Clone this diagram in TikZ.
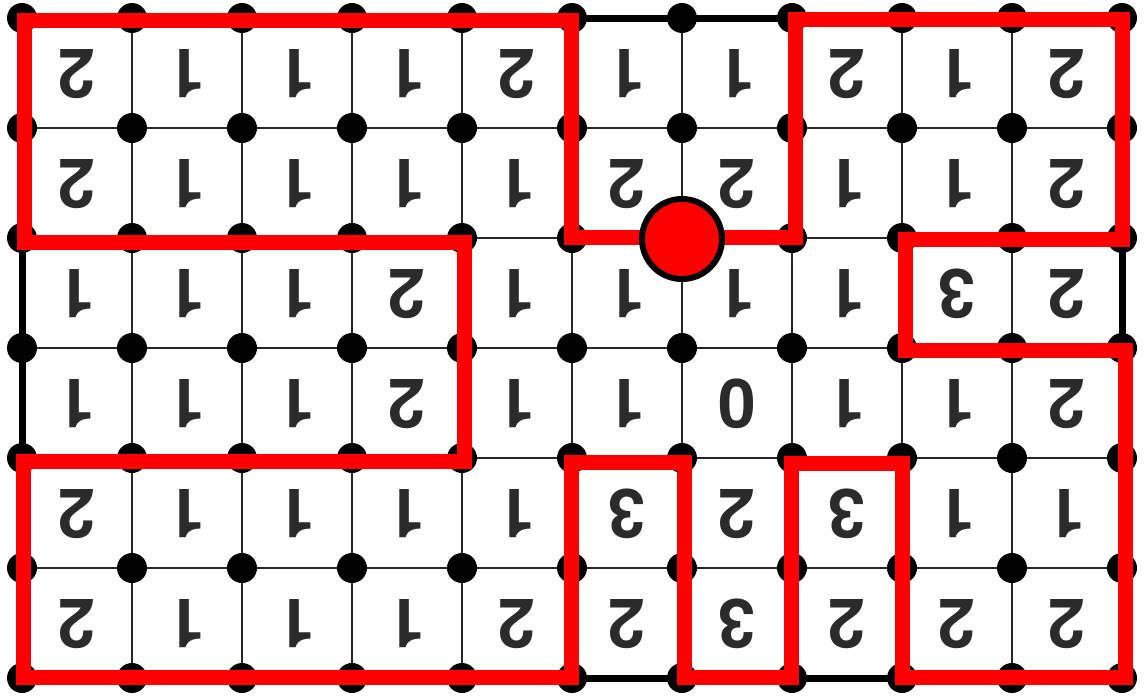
\documentclass[tikz,border=0pt]{standalone}
\usepackage{fontspec}
\setmainfont{TeX Gyre Heros}
\definecolor{digit}{HTML}{2B2B2B}
\definecolor{loopred}{HTML}{FF0000}
\begin{document}
\begin{tikzpicture}[x=1pt,y=-1pt,
  thinline/.style={line width=1.8pt,black!85},
  border/.style={line width=7pt,black},
  vdot/.style={circle,fill=black,inner sep=0pt,minimum size=30pt},
  digitnode/.style={rotate=180,text=digit,font=\fontsize{68}{68}\selectfont\bfseries,inner sep=0pt},
  looppath/.style={line width=15pt,loopred,line join=miter},
  startdot/.style={circle,fill=loopred,draw=black,line width=6pt,minimum size=80pt,inner sep=0pt}]
\useasboundingbox (0,0) rectangle (1144,699);
% grid
\foreach \i in {1,...,9} \draw[thinline] (22+110*\i,18) -- (22+110*\i,678);
\foreach \j in {1,...,5} \draw[thinline] (22,18+110*\j) -- (1122,18+110*\j);
\draw[border] (22,18) rectangle (1122,678);
% dots
\foreach \i in {0,...,10} \foreach \j in {0,...,6}
  \node[vdot] (d-\i-\j) at (22+110*\i,18+110*\j) {};
% digits
\foreach \row [count=\jj from 0] in {{2,1,1,1,2,1,1,2,1,2},{2,1,1,1,1,2,2,1,1,2},{1,1,1,2,1,1,1,1,3,2},{1,1,1,2,1,1,0,1,1,2},{2,1,1,1,1,3,2,3,1,1},{2,1,1,1,2,2,3,2,2,2}}
  \foreach \d [count=\ii from 0] in \row
    \node[digitnode] (c-\ii-\jj) at (77+110*\ii,74+110*\jj) {\d};
% loop corners
\coordinate (p1) at (24,20);
\coordinate (p2) at (571,20);
\coordinate (p3) at (571,237.5);
\coordinate (p4) at (795,237.5);
\coordinate (p5) at (795,19.5);
\coordinate (p6) at (1122,19.5);
\coordinate (p7) at (1122,239.5);
\coordinate (p8) at (905,239.5);
\coordinate (p9) at (905,350);
\coordinate (p10) at (1125,350);
\coordinate (p11) at (1125,677.5);
\coordinate (p12) at (902.5,677.5);
\coordinate (p13) at (902.5,463);
\coordinate (p14) at (791.5,463);
\coordinate (p15) at (791.5,677.5);
\coordinate (p16) at (684.5,677.5);
\coordinate (p17) at (684.5,462.5);
\coordinate (p18) at (571,462.5);
\coordinate (p19) at (571,677.5);
\coordinate (p20) at (23.5,677.5);
\coordinate (p21) at (23.5,461);
\coordinate (p22) at (464.5,461);
\coordinate (p23) at (464.5,242);
\coordinate (p24) at (24,242);
\draw[looppath] (p1) -- (p2) -- (p3) -- (p4) -- (p5) -- (p6) -- (p7) -- (p8) -- (p9) -- (p10) -- (p11) -- (p12) -- (p13) -- (p14) -- (p15) -- (p16) -- (p17) -- (p18) -- (p19) -- (p20) -- (p21) -- (p22) -- (p23) -- (p24) -- cycle;
\node[startdot] (start) at (682,239) {};
\end{tikzpicture}
\end{document}
